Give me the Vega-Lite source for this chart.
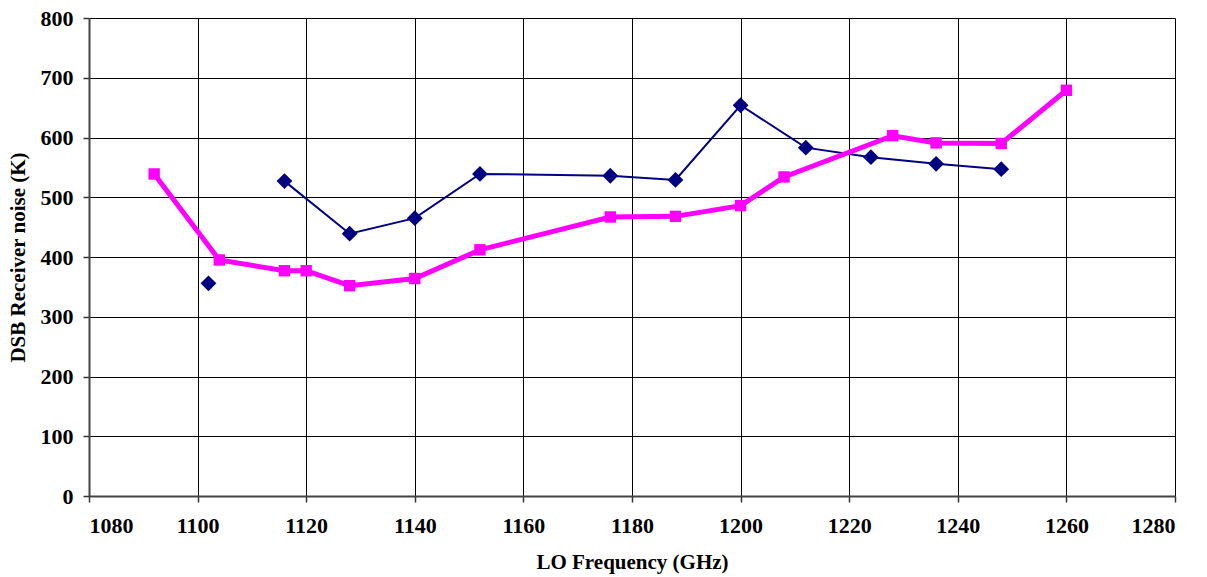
{
  "$schema": "https://vega.github.io/schema/vega-lite/v6.json",
  "width": 1086,
  "height": 478,
  "autosize": "none",
  "padding": {"left": 89, "top": 18, "right": 32, "bottom": 81},
  "background": "white",
  "config": {
    "view": {"stroke": null},
    "axis": {
      "labelFont": "Liberation Serif",
      "titleFont": "Liberation Serif",
      "labelFontWeight": "bold",
      "titleFontWeight": "bold",
      "labelFontSize": 22,
      "titleFontSize": 21,
      "labelColor": "black",
      "titleColor": "black",
      "gridColor": "black",
      "gridOpacity": 1,
      "gridWidth": 1,
      "domainColor": "#444",
      "domainWidth": 2,
      "tickColor": "#333",
      "tickSize": 6,
      "tickWidth": 1.5
    }
  },
  "data": {
    "values": [
      {"series": "A", "seg": 1, "f": 1102, "t": 356},
      {"series": "A", "seg": 2, "f": 1116, "t": 527},
      {"series": "A", "seg": 2, "f": 1128, "t": 439},
      {"series": "A", "seg": 2, "f": 1140, "t": 465},
      {"series": "A", "seg": 2, "f": 1152, "t": 539},
      {"series": "A", "seg": 2, "f": 1176, "t": 536},
      {"series": "A", "seg": 2, "f": 1188, "t": 529},
      {"series": "A", "seg": 2, "f": 1200, "t": 654},
      {"series": "A", "seg": 2, "f": 1212, "t": 583},
      {"series": "A", "seg": 2, "f": 1224, "t": 567},
      {"series": "A", "seg": 2, "f": 1236, "t": 556},
      {"series": "A", "seg": 2, "f": 1248, "t": 547},
      {"series": "B", "seg": 3, "f": 1092, "t": 539},
      {"series": "B", "seg": 3, "f": 1104, "t": 395},
      {"series": "B", "seg": 3, "f": 1116, "t": 377},
      {"series": "B", "seg": 3, "f": 1120, "t": 377},
      {"series": "B", "seg": 3, "f": 1128, "t": 352},
      {"series": "B", "seg": 3, "f": 1140, "t": 364},
      {"series": "B", "seg": 3, "f": 1152, "t": 412},
      {"series": "B", "seg": 3, "f": 1176, "t": 467},
      {"series": "B", "seg": 3, "f": 1188, "t": 468},
      {"series": "B", "seg": 3, "f": 1200, "t": 486},
      {"series": "B", "seg": 3, "f": 1208, "t": 534},
      {"series": "B", "seg": 3, "f": 1228, "t": 603},
      {"series": "B", "seg": 3, "f": 1236, "t": 591},
      {"series": "B", "seg": 3, "f": 1248, "t": 590},
      {"series": "B", "seg": 3, "f": 1260, "t": 679}
    ]
  },
  "encoding": {
    "x": {
      "field": "f", "type": "quantitative",
      "scale": {"domain": [1080, 1280], "nice": false},
      "axis": {"values": [1080, 1100, 1120, 1140, 1160, 1180, 1200, 1220, 1240, 1260, 1280], "title": "LO Frequency (GHz)", "labelPadding": 13, "titlePadding": 15, "format": "d"}
    },
    "y": {
      "field": "t", "type": "quantitative",
      "scale": {"domain": [0, 800], "nice": false},
      "axis": {"values": [0, 100, 200, 300, 400, 500, 600, 700, 800], "title": "DSB Receiver noise (K)", "labelPadding": 10, "titlePadding": 12, "format": "d"}
    }
  },
  "layer": [
    {
      "transform": [{"filter": "datum.series === 'A'"}],
      "mark": {"type": "line", "color": "#000080", "strokeWidth": 2},
      "encoding": {"detail": {"field": "seg", "type": "nominal"}}
    },
    {
      "transform": [{"filter": "datum.series === 'A'"}],
      "mark": {"type": "point", "shape": "diamond", "filled": true, "color": "#000080", "opacity": 1, "size": 250},
      "encoding": {}
    },
    {
      "transform": [{"filter": "datum.series === 'B'"}],
      "mark": {"type": "line", "color": "#FF00FF", "strokeWidth": 5},
      "encoding": {}
    },
    {
      "transform": [{"filter": "datum.series === 'B'"}],
      "mark": {"type": "point", "shape": "square", "filled": true, "color": "#FF00FF", "opacity": 1, "size": 130},
      "encoding": {}
    }
  ]
}
